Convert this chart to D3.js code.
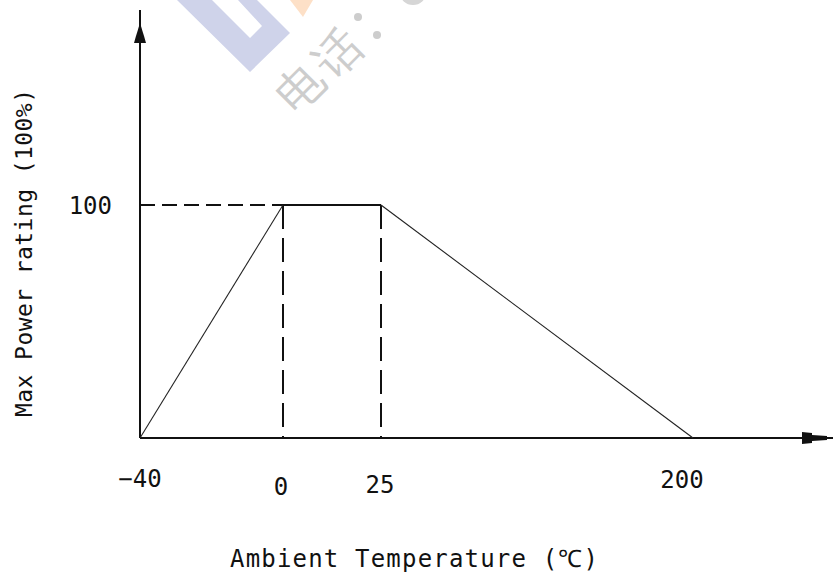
<!DOCTYPE html>
<html>
<head>
<meta charset="utf-8">
<script src="https://cdn.jsdelivr.net/npm/d3@7"></script>
<style>
  html, body { margin: 0; padding: 0; background: #fff; }
  svg { display: block; }
  text { font-family: "DejaVu Sans Mono", "Liberation Mono", monospace; fill: #111; }
</style>
</head>
<body>
<svg id="chart" width="833" height="576"></svg>
<script>
// ---- data ----
const temps = [-40, 0, 25, 200];          // x ticks (°C)
const power = [0, 100, 100, 0];           // max power rating (%)
const yTicks = [100];
const xLabel = "Ambient Temperature (\u2103)";
const yLabel = "Max Power rating (100%)";
const watermarkChars = ["电", "话"];

const svg = d3.select("#chart");
const W = 833, H = 576;

// piecewise (non-uniform) x scale as drawn in the reference
const x = d3.scaleLinear().domain(temps).range([140, 283, 381, 693]);
const y = d3.scaleLinear().domain([0, 100]).range([438, 205]);

// ---- watermark ----
const wm = svg.append("g").attr("class", "watermark");
wm.append("path")
  .attr("d", "M177,0 L250,72 L290,33 L257,0 L238,0 L262,26 L250,38 L212,0 Z")
  .attr("fill", "#cfd3ea");
wm.append("path")
  .attr("d", "M290,0 L313,0 L303,17 Z")
  .attr("fill", "#fde0c7");
const wmPos = [[300, 87], [338, 53]];
wm.selectAll("text.wm").data(watermarkChars).join("text")
  .attr("class", "wm")
  .attr("transform", (d, i) => `translate(${wmPos[i][0]},${wmPos[i][1]}) rotate(-45)`)
  .attr("text-anchor", "middle")
  .attr("dominant-baseline", "central")
  .attr("font-family", "'Noto Sans CJK SC', sans-serif")
  .attr("font-size", 46)
  .style("fill", "#cdcdcd")
  .text(d => d);
wm.append("circle").attr("cx", 358).attr("cy", 17).attr("r", 4).attr("fill", "#cdcdcd");
wm.append("circle").attr("cx", 377).attr("cy", 35).attr("r", 4).attr("fill", "#cdcdcd");
wm.append("ellipse").attr("cx", 413).attr("cy", -7).attr("rx", 13).attr("ry", 12).attr("fill", "#d6d6d6");

// ---- axes ----
const g = svg.append("g");
const x0 = x(-40), y0 = y(0);

// y axis shaft + arrow
g.append("line").attr("x1", x0).attr("x2", x0).attr("y1", 10).attr("y2", y0)
  .attr("stroke", "#111").attr("stroke-width", 2);
g.append("path")
  .attr("d", `M${x0},23 L${x0+4},36 L${x0+6},43 L${x0-6},43 L${x0-4},36 Z`)
  .attr("fill", "#111");

// x axis shaft + arrow
g.append("line").attr("x1", x0).attr("x2", W).attr("y1", y0).attr("y2", y0)
  .attr("stroke", "#111").attr("stroke-width", 2);
g.append("path")
  .attr("d", `M802,${y0-6} L812,${y0-5} L812,${y0-3} L827,${y0-2} L827,${y0+2} L812,${y0+3} L812,${y0+5} L802,${y0+6} Z`)
  .attr("fill", "#111");

// x tick labels (offsets)
const xLabelY = { "-40": 487, "0": 495, "25": 493, "200": 488 };
const xLabelDx = { "-40": 0, "0": -2, "25": -1, "200": -11 };
g.selectAll("text.xtick").data(temps).join("text")
  .attr("class", "xtick")
  .attr("x", d => x(d) + xLabelDx[d])
  .attr("y", d => xLabelY[d])
  .attr("text-anchor", "middle")
  .attr("font-size", 24)
  .text(d => d === -40 ? "\u221240" : d);

// y tick labels
g.selectAll("text.ytick").data(yTicks).join("text")
  .attr("class", "ytick")
  .attr("x", 112)
  .attr("y", d => y(d) + 9)
  .attr("text-anchor", "end")
  .attr("font-size", 24)
  .text(d => d);

// ---- guide lines (dashed) ----
g.append("line")
  .attr("x1", x0).attr("x2", x(0)).attr("y1", y(100)).attr("y2", y(100))
  .attr("stroke", "#111").attr("stroke-width", 2).attr("stroke-dasharray", "15,7");
[0, 25].forEach(t => {
  g.append("line")
    .attr("x1", x(t)).attr("x2", x(t)).attr("y1", y(100)).attr("y2", y0)
    .attr("stroke", "#111").attr("stroke-width", 2).attr("stroke-dasharray", "24,9");
});

// ---- derating curve ----
const pts = temps.map((t, i) => [t, power[i]]);
g.append("line")
  .attr("x1", x(pts[0][0])).attr("y1", y(pts[0][1]))
  .attr("x2", x(pts[1][0])).attr("y2", y(pts[1][1]))
  .attr("stroke", "#222").attr("stroke-width", 1.1);
g.append("line")
  .attr("x1", x(pts[1][0])).attr("y1", y(pts[1][1]))
  .attr("x2", x(pts[2][0])).attr("y2", y(pts[2][1]))
  .attr("stroke", "#111").attr("stroke-width", 2);
g.append("line")
  .attr("x1", x(pts[2][0])).attr("y1", y(pts[2][1]))
  .attr("x2", x(pts[3][0])).attr("y2", y(pts[3][1]))
  .attr("stroke", "#222").attr("stroke-width", 1.1);

// ---- axis titles ----
svg.append("text")
  .attr("x", 414).attr("y", 567)
  .attr("text-anchor", "middle")
  .attr("font-size", 24)
  .attr("textLength", 368)
  .text(xLabel);

svg.append("text")
  .attr("transform", "translate(32,253) rotate(-90)")
  .attr("text-anchor", "middle")
  .attr("font-size", 23)
  .attr("textLength", 328)
  .text(yLabel);
</script>
</body>
</html>
